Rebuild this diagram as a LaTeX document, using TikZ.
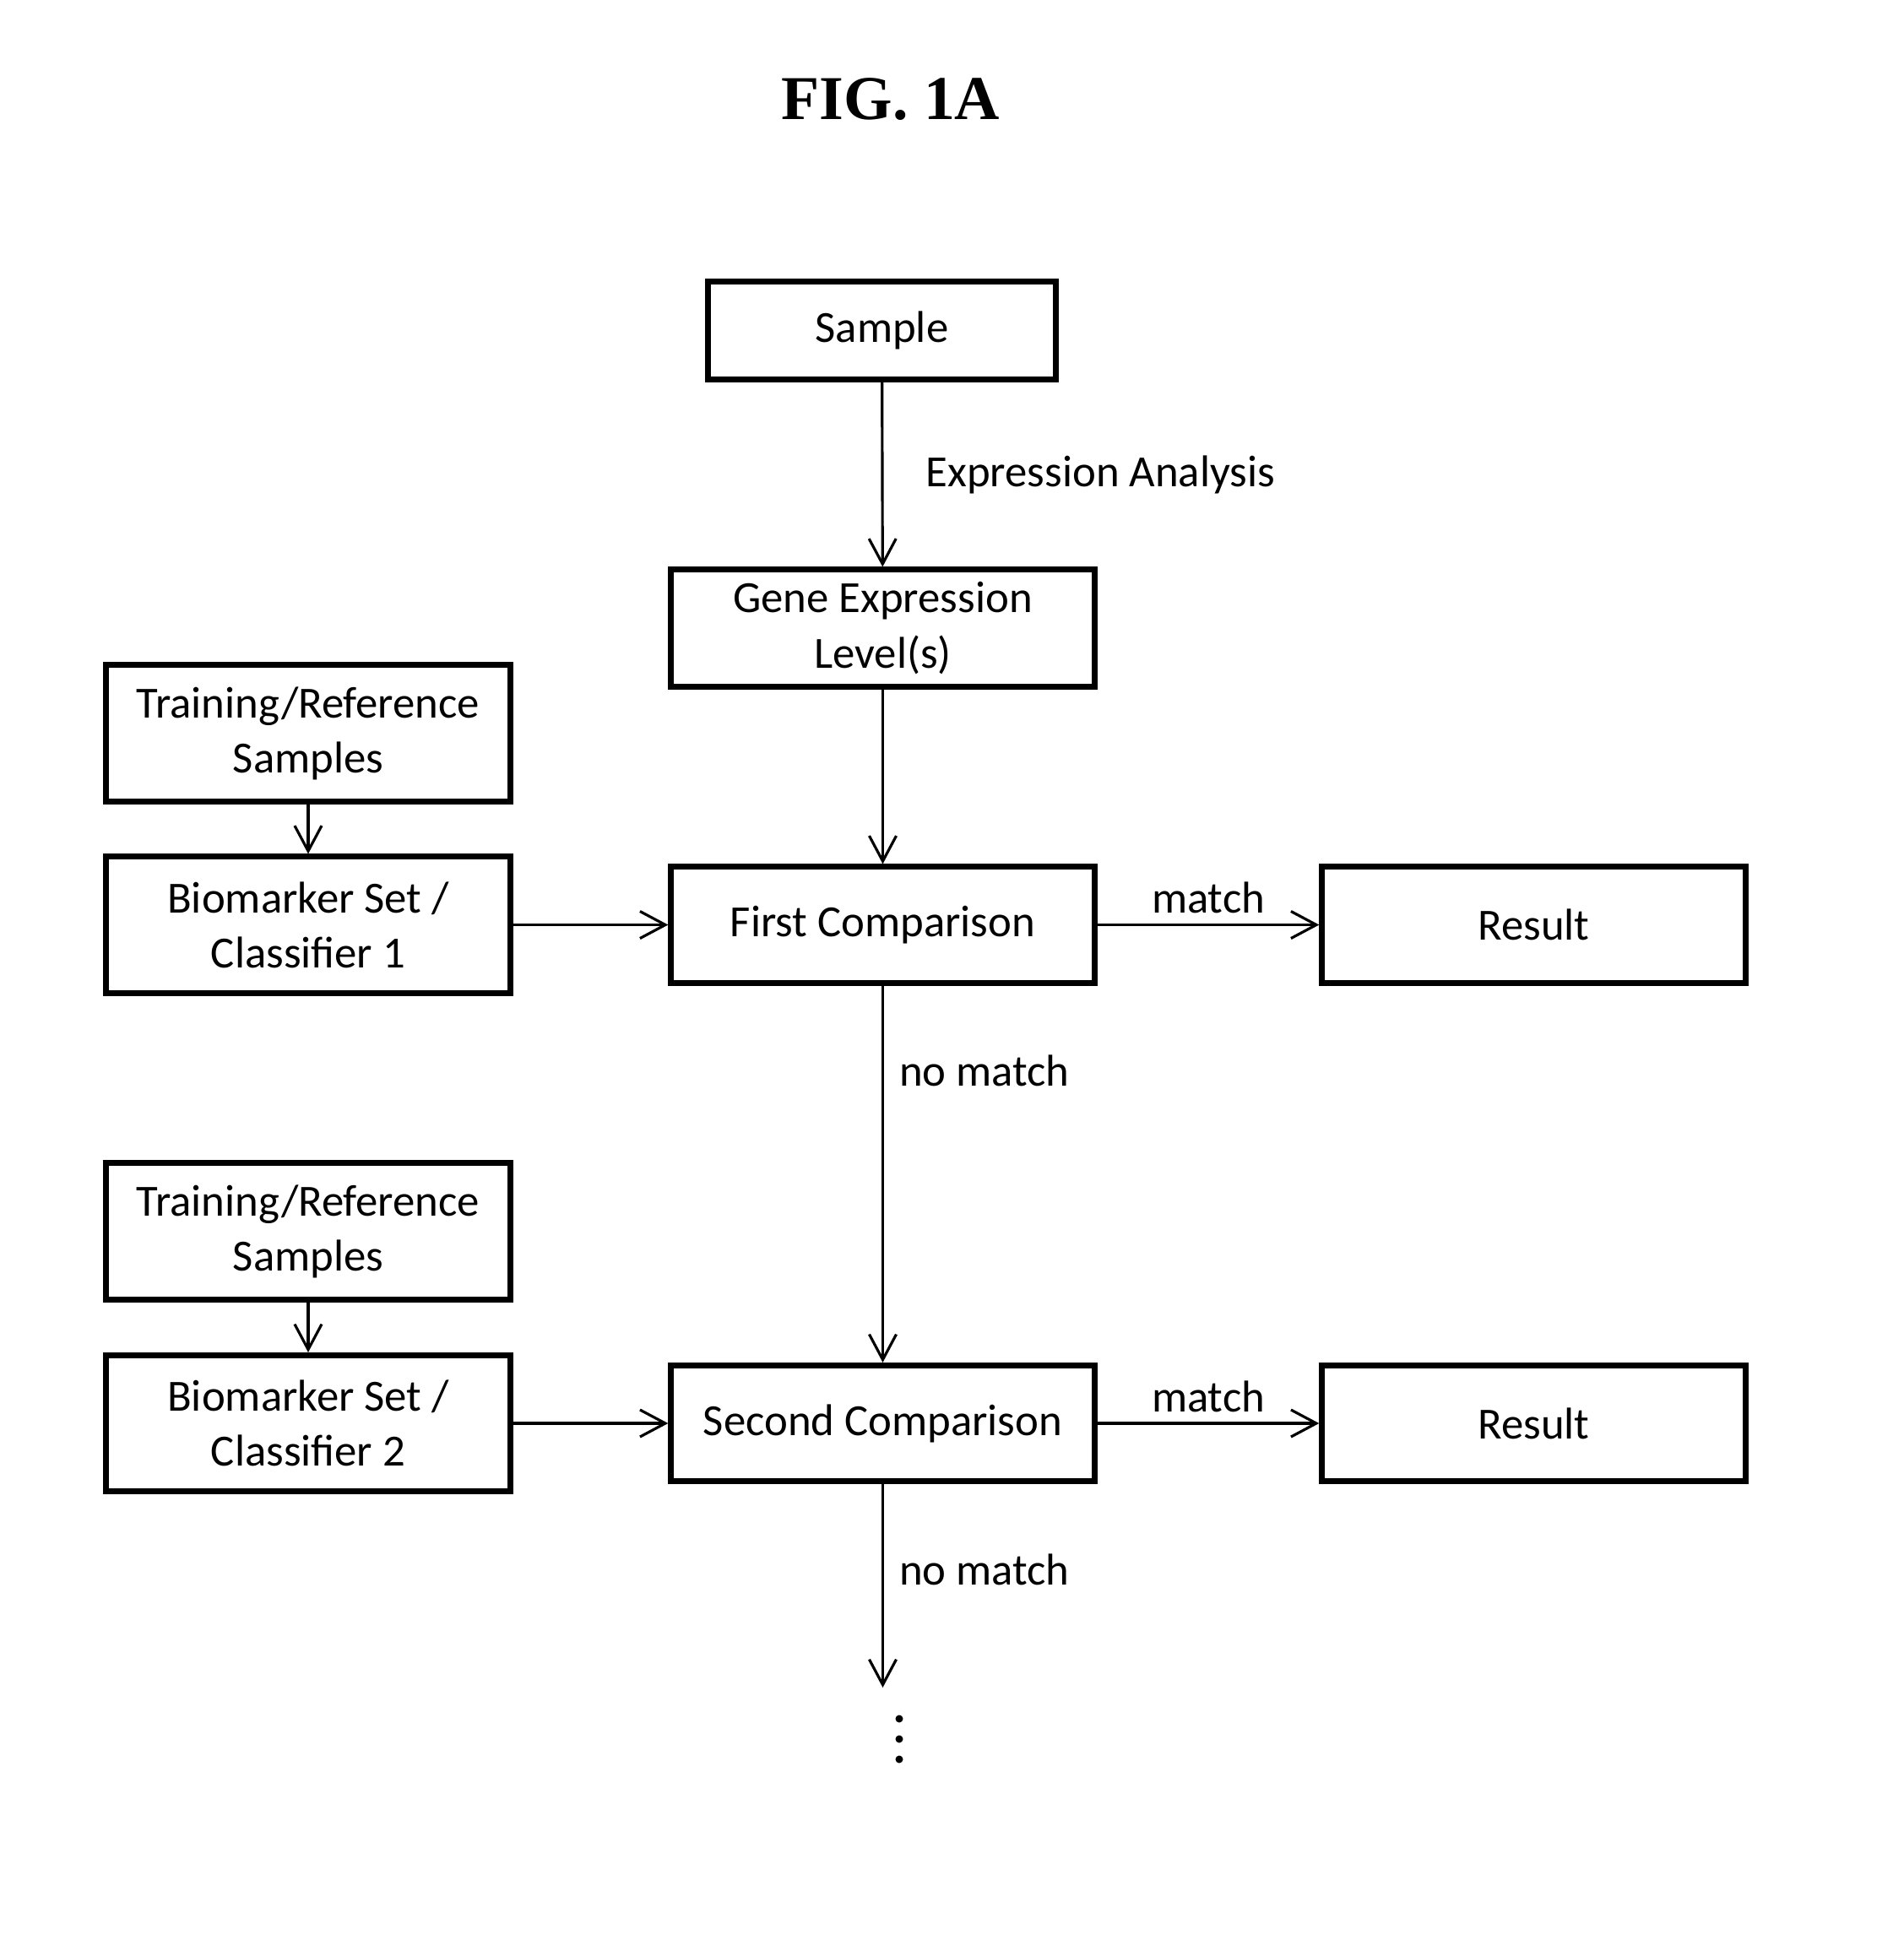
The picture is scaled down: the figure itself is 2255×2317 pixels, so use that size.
\documentclass[tikz,border=0pt]{standalone}
\usepackage{fontspec}
\setmainfont{Carlito}
\newfontfamily\figfont{Liberation Serif}
\usepackage{tikz}
\usetikzlibrary{arrows.meta, positioning}

\begin{document}
\begin{tikzpicture}[x=0.01cm,y=-0.01cm,->,>={Straight Barb[length=0.3cm,width=0.32cm]},
  line width=0.9pt,font=\fontsize{15}{18.5}\selectfont,
  box/.style={rectangle,draw,line width=2pt,align=center,inner sep=0pt},
  small box/.style={box,minimum width=5.01cm,minimum height=1.37cm},
  side box/.style={box,minimum width=4.78cm,minimum height=1.61cm},
  lbl/.style={inner sep=0pt}]

  \useasboundingbox (0,0) rectangle (2255,2317);

  \node[font=\figfont\bfseries\fontsize{21}{24}\selectfont] (fig) at (1055,118) {FIG. 1A};

  \node[box,minimum width=4.11cm,minimum height=1.15cm] (sample) at (1044.5,391.5) {Sample};
  \node[small box,minimum height=1.38cm] (gene) at (1045.5,744) {Gene Expression\\Level(s)};
  \node[side box] (train1) at (365,868.5) {Training/Reference\\Samples};
  \node[side box] (bio1) at (365,1095.5) {Biomarker Set /\\Classifier 1};
  \node[small box] (first) at (1045.5,1095.5) {First Comparison};
  \node[small box] (res1) at (1816.5,1095.5) {Result};
  \node[side box] (train2) at (365,1458.5) {Training/Reference\\Samples};
  \node[side box] (bio2) at (365,1686) {Biomarker Set /\\Classifier 2};
  \node[small box] (second) at (1045.5,1686) {Second Comparison};
  \node[small box] (res2) at (1816.5,1686) {Result};
  \coordinate (more) at (1045.5,1999);

  \path
    (sample) edge node[lbl,right=0.5cm] {Expression Analysis} (gene)
    (gene) edge (first)
    (train1) edge (bio1)
    (bio1) edge (first)
    (first) edge node[lbl,above=0.12cm] {match} (res1)
    (first) edge node[lbl,pos=0.225,right=0.18cm] {no match} (second)
    (train2) edge (bio2)
    (bio2) edge (second)
    (second) edge node[lbl,above=0.12cm] {match} (res2)
    (second) edge node[lbl,pos=0.42,right=0.18cm] {no match} (more);

  % continuation dots
  \foreach \y in {2036,2060,2084}
    \fill (1065,\y) circle (0.045cm);
\end{tikzpicture}
\end{document}
